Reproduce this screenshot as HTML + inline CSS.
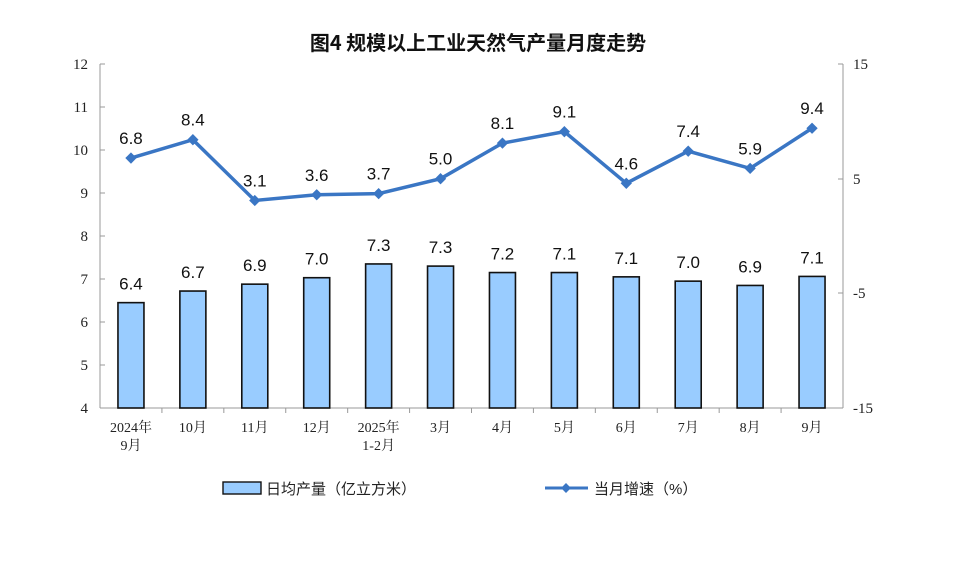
<!DOCTYPE html><html><head><meta charset="utf-8"><style>body{margin:0;background:#fff}svg{display:block}text{font-family:"Liberation Sans","Noto Sans CJK SC",sans-serif}text.sf{font-family:"Liberation Serif","Noto Serif CJK SC",serif}</style></head><body>
<svg width="957" height="564" viewBox="0 0 957 564" xmlns="http://www.w3.org/2000/svg">
<text x="478" y="50" text-anchor="middle" font-size="20" font-weight="bold" fill="#111" style="font-family:'Noto Sans CJK SC',sans-serif">图4  规模以上工业天然气产量月度走势</text>
<g stroke="#999" stroke-width="1" fill="none">
<line x1="100" y1="64" x2="100" y2="408"/><line x1="843" y1="64" x2="843" y2="408"/><line x1="100" y1="408" x2="843" y2="408"/>
</g>
<g id="g"></g>
<script>
const s="http://www.w3.org/2000/svg",g=document.getElementById('g');
function el(t,a,p,txt){const e=document.createElementNS(s,t);for(const k in a)e.setAttribute(k,a[k]);if(txt!=null)e.textContent=txt;(p||g).appendChild(e);return e;}
for(let v=4;v<=12;v++){const y=408-(v-4)*43;el('line',{x1:100,y1:y,x2:105,y2:y,stroke:'#999'});el('text',{x:88,y:y+5,'font-size':15,'text-anchor':'end',fill:'#222','class':'sf'},null,v);}
[[15,64],[5,179],[-5,293],[-15,408]].forEach(([v,y])=>{el('line',{x1:838,y1:y,x2:843,y2:y,stroke:'#999'});el('text',{x:853,y:y+5,'font-size':15,fill:'#222','class':'sf'},null,v);});
const W=743/12;
for(let i=1;i<12;i++){const x=100+i*W;el('line',{x1:x,y1:408,x2:x,y2:413,stroke:'#999'});}
const bars=[6.4,6.7,6.9,7.0,7.3,7.3,7.2,7.1,7.1,7.0,6.9,7.1];
const bh=[6.45,6.72,6.88,7.03,7.35,7.3,7.15,7.15,7.05,6.95,6.85,7.06];
const ln=[6.8,8.4,3.1,3.6,3.7,5.0,8.1,9.1,4.6,7.4,5.9,9.4];
const labs=[['2024年','9月'],['10月'],['11月'],['12月'],['2025年','1-2月'],['3月'],['4月'],['5月'],['6月'],['7月'],['8月'],['9月']];
let pts=[];
bars.forEach((b,i)=>{const cx=100+(i+.5)*W,y=408-(bh[i]-4)*43;
el('rect',{x:cx-13,y:y,width:26,height:408-y,fill:'#99ccff',stroke:'#111','stroke-width':1.6});
el('text',{x:cx,y:y-13,'font-size':17,'text-anchor':'middle',fill:'#111'},null,b.toFixed(1));
labs[i].forEach((t,j)=>el('text',{x:cx,y:432+j*18,'font-size':14,'text-anchor':'middle',fill:'#222','class':'sf'},null,t));
const ly=64+(15-ln[i])*11.47;pts.push(cx+','+ly);});
el('polyline',{points:pts.join(' '),fill:'none',stroke:'#3a76c4','stroke-width':3.5});
pts.forEach((p,i)=>{const [x,y]=p.split(',').map(Number);el('rect',{x:x-4,y:y-4,width:8,height:8,fill:'#3a76c4',transform:`rotate(45 ${x} ${y})`});
el('text',{x:x,y:y-14,'font-size':17,'text-anchor':'middle',fill:'#111'},null,ln[i].toFixed(1));});
el('rect',{x:223,y:482,width:38,height:12,fill:'#99ccff',stroke:'#111','stroke-width':1.4});
el('text',{x:266,y:494,'font-size':15,fill:'#222'},null,'日均产量（亿立方米）');
el('line',{x1:545,y1:488,x2:588,y2:488,stroke:'#3a76c4','stroke-width':3});
el('rect',{x:562.5,y:484.5,width:7,height:7,fill:'#3a76c4',transform:'rotate(45 566 488)'});
el('text',{x:594,y:494,'font-size':15,fill:'#222'},null,'当月增速（%）');
</script>
</svg></body></html>
